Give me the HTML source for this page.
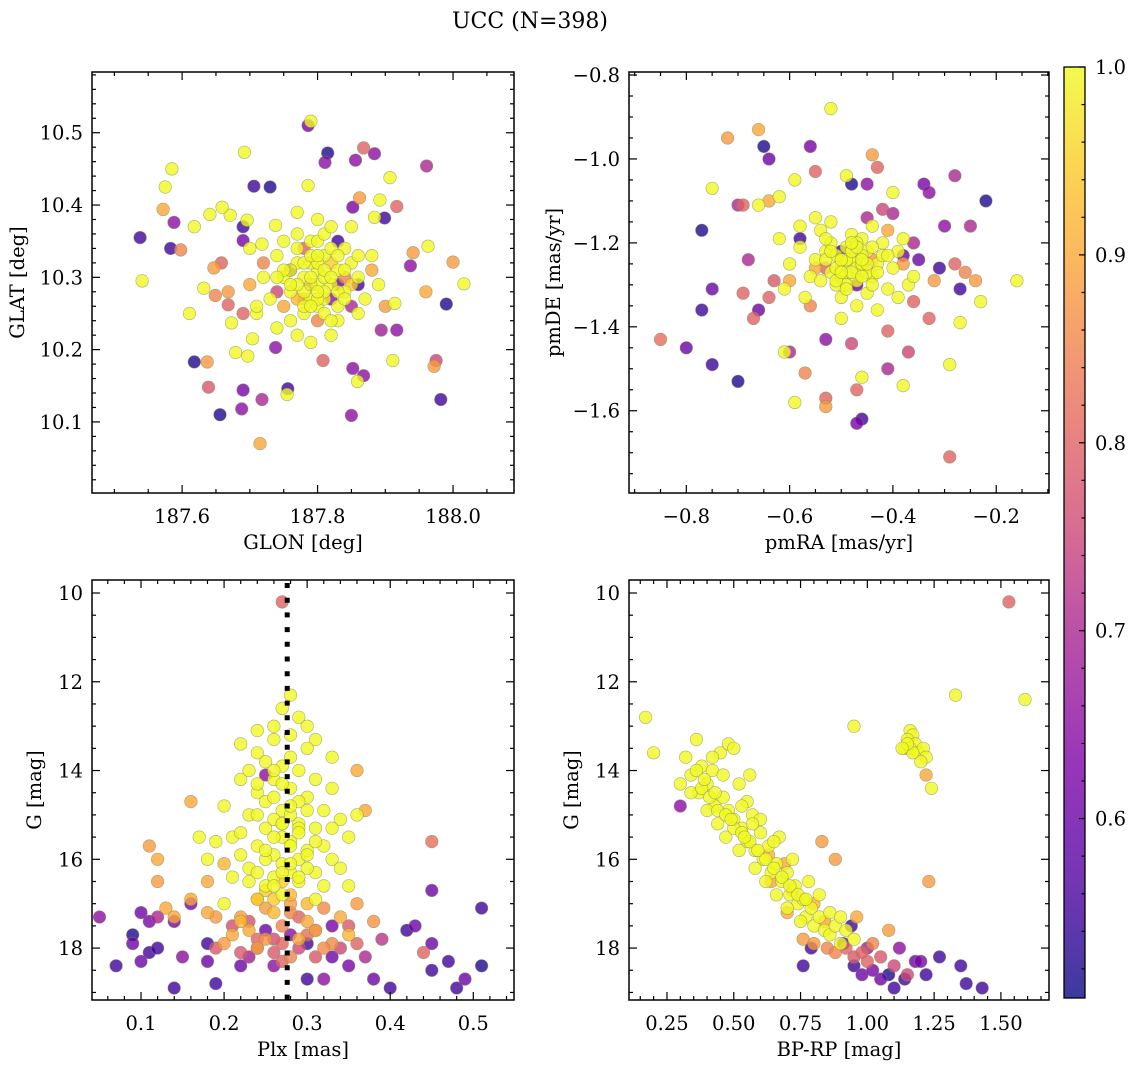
<!DOCTYPE html>
<html><head><meta charset="utf-8">
<style>
html,body{margin:0;padding:0;background:#fff;}
svg{display:block;font-family:"DejaVu Serif","Liberation Serif",serif;}
</style></head>
<body>
<svg id="fig" width="1136" height="1067" viewBox="0 0 1136 1067" xmlns="http://www.w3.org/2000/svg">
<text x="530" y="28" font-size="22" text-anchor="middle">UCC (N=398)</text>
<defs>
<linearGradient id="cbgrad" x1="0" y1="1" x2="0" y2="0"></linearGradient>
</defs>
</svg>
<script>
// ---- data arrays (panel 1: GLON / GLAT) ----
const p1_glon=[187.538,187.541,187.575,187.585,187.572,187.588,187.583,187.598,187.611,187.618,187.637,187.639,187.656,187.69,187.688,187.718,187.715,187.756,187.755,187.692,187.706,187.73,187.786,187.79,187.786,187.815,187.811,187.868,187.884,187.856,187.852,187.862,187.907,187.892,187.884,187.899,187.917,187.961,187.963,187.941,187.937,188.0,188.016,187.96,187.99,187.914,187.917,187.911,187.894,187.975,187.972,187.982,187.85,187.852,187.868,187.859,187.808,187.738,187.679,187.697,187.704,187.658,187.647,187.649,187.632,187.668,187.668,187.673,187.71,187.69,187.69,187.696,187.671,187.659,187.641,187.618,187.738,187.718,
187.78,187.80,187.82,187.79,187.81,187.77,187.76,187.83,187.84,187.80,187.78,187.75,187.74,187.82,187.79,187.77,187.85,187.86,187.81,187.83,187.76,187.73,187.72,187.80,187.79,187.81,187.84,187.75,187.87,187.86,187.77,187.82,187.79,187.74,187.88,187.71,187.70,187.89,187.80,187.77,187.85,187.83,187.78,187.81,187.80,
187.76,187.79,187.82,187.74,187.84,187.78,187.86,187.72,187.88,187.80,187.85,187.75,187.83,187.70,187.77,187.82,187.90,187.69,
187.79,187.81,187.83,187.78,187.80,187.82,187.77,187.84,187.79,187.81,187.76,187.83,187.80,187.78,187.82,187.85,187.75,187.79,187.81,187.77,187.83,187.80,187.86,187.74,187.78,187.82,187.80,187.76,187.84,187.79];
const p1_glat=[10.355,10.295,10.425,10.45,10.394,10.376,10.34,10.338,10.25,10.183,10.183,10.148,10.11,10.144,10.118,10.131,10.07,10.146,10.138,10.473,10.426,10.425,10.427,10.516,10.51,10.472,10.459,10.479,10.471,10.462,10.397,10.41,10.438,10.407,10.383,10.382,10.398,10.454,10.343,10.334,10.316,10.321,10.291,10.28,10.263,10.264,10.227,10.185,10.227,10.185,10.177,10.131,10.109,10.174,10.164,10.156,10.185,10.203,10.196,10.191,10.215,10.32,10.313,10.275,10.285,10.262,10.28,10.237,10.25,10.37,10.351,10.379,10.386,10.397,10.387,10.37,10.372,10.346,
10.30,10.31,10.29,10.27,10.33,10.32,10.28,10.31,10.28,10.26,10.25,10.30,10.33,10.34,10.35,10.36,10.32,10.30,10.27,10.26,10.24,10.27,10.30,10.29,10.32,10.30,10.34,10.35,10.27,10.25,10.22,10.22,10.21,10.23,10.33,10.26,10.34,10.29,10.38,10.39,10.37,10.24,10.28,10.28,10.32,
10.31,10.29,10.27,10.28,10.30,10.34,10.29,10.32,10.31,10.24,10.26,10.26,10.35,10.29,10.27,10.32,10.26,10.25,
10.29,10.31,10.28,10.32,10.27,10.30,10.29,10.31,10.33,10.25,10.31,10.33,10.35,10.26,10.24,10.29,10.31,10.30,10.36,10.34,10.29,10.28,10.33,10.30,10.27,10.37,10.33,10.29,10.27,10.26];
const p1_prob=[0.55,1,1,1,0.9,0.65,0.55,0.85,1,0.52,0.88,0.78,0.52,0.62,0.65,0.7,0.9,0.55,1,1,0.55,0.52,1,1,0.62,0.52,0.65,0.8,0.65,0.65,0.62,0.88,1,1,1,0.55,0.8,0.7,1,0.88,0.65,0.88,1,0.9,0.52,1,0.65,1,0.68,0.75,0.88,0.55,0.65,0.65,0.65,1,0.8,0.65,1,1,1,0.8,0.88,0.85,1,0.8,0.88,1,1,0.55,0.62,1,1,1,1,1,1,1,
1,1,1,1,1,1,1,1,1,1,1,1,1,1,1,1,1,1,1,1,1,1,1,1,1,1,1,1,1,1,1,1,1,1,1,1,1,1,1,1,1,1,1,1,1,
0.55,0.6,0.65,0.75,0.85,0.8,0.55,0.85,0.9,0.85,0.7,0.9,0.55,0.9,0.92,0.95,0.88,0.8,
1,1,1,1,1,1,1,1,1,1,1,1,1,1,1,0.95,1,1,1,1,0.6,1,1,1,0.9,1,1,1,1,1];
// ---- panel 2: pmRA / pmDE ----
const p2_pmra=[-0.52,-0.72,-0.66,-0.65,-0.64,-0.56,-0.49,-0.55,-0.48,-0.43,-0.44,-0.45,-0.40,-0.34,-0.33,-0.28,-0.22,-0.25,-0.30,-0.75,-0.70,-0.69,-0.66,-0.64,-0.62,-0.59,-0.77,-0.68,-0.69,-0.75,-0.75,-0.70,-0.80,-0.85,-0.77,-0.66,-0.67,-0.64,-0.63,-0.61,-0.60,-0.59,-0.57,-0.53,-0.53,-0.53,-0.48,-0.46,-0.47,-0.47,-0.46,-0.41,-0.41,-0.38,-0.37,-0.29,-0.29,-0.27,-0.33,-0.28,-0.26,-0.24,-0.23,-0.16,-0.27,-0.31,-0.32,-0.35,-0.36,-0.38,-0.37,-0.39,-0.36,-0.38,-0.40,-0.42,
-0.50,-0.48,-0.46,-0.52,-0.49,-0.45,-0.47,-0.53,-0.51,-0.44,-0.55,-0.43,-0.48,-0.50,-0.46,-0.56,-0.42,-0.58,-0.40,-0.54,-0.47,-0.52,-0.44,-0.60,-0.41,-0.49,-0.45,-0.57,-0.39,-0.62,-0.50,-0.43,-0.55,-0.58,-0.61,-0.36,-0.48,-0.52,-0.46,
-0.50,-0.47,-0.53,-0.44,-0.58,-0.41,-0.56,-0.45,-0.60,-0.38,
-0.49,-0.47,-0.51,-0.45,-0.48,-0.50,-0.46,-0.53,-0.44,-0.49,-0.51,-0.47,-0.54,-0.42,-0.48,-0.50,-0.45,-0.52,-0.46,-0.49,-0.43,-0.55,-0.47,-0.51,-0.48,-0.44,-0.53,-0.46,-0.50,-0.41];
const p2_pmde=[-0.88,-0.95,-0.93,-0.97,-1.0,-0.97,-1.04,-1.03,-1.06,-1.02,-0.99,-1.06,-1.08,-1.06,-1.08,-1.04,-1.10,-1.16,-1.16,-1.07,-1.11,-1.11,-1.11,-1.10,-1.09,-1.05,-1.17,-1.24,-1.32,-1.31,-1.49,-1.53,-1.45,-1.43,-1.36,-1.36,-1.38,-1.33,-1.29,-1.46,-1.46,-1.58,-1.51,-1.59,-1.57,-1.43,-1.44,-1.52,-1.55,-1.63,-1.62,-1.50,-1.41,-1.54,-1.46,-1.49,-1.71,-1.39,-1.38,-1.25,-1.27,-1.29,-1.34,-1.29,-1.31,-1.26,-1.29,-1.24,-1.20,-1.23,-1.30,-1.33,-1.34,-1.19,-1.13,-1.12,
-1.25,-1.23,-1.26,-1.27,-1.21,-1.22,-1.29,-1.22,-1.30,-1.28,-1.24,-1.25,-1.18,-1.33,-1.19,-1.28,-1.20,-1.21,-1.26,-1.17,-1.35,-1.15,-1.16,-1.25,-1.31,-1.27,-1.32,-1.33,-1.22,-1.19,-1.38,-1.36,-1.14,-1.16,-1.31,-1.28,-1.24,-1.20,-1.23,
-1.22,-1.30,-1.26,-1.24,-1.19,-1.17,-1.35,-1.14,-1.29,-1.25,
-1.24,-1.26,-1.23,-1.27,-1.22,-1.28,-1.25,-1.24,-1.21,-1.30,-1.26,-1.20,-1.29,-1.23,-1.27,-1.24,-1.25,-1.22,-1.28,-1.31,-1.27,-1.26,-1.21,-1.29,-1.20,-1.30,-1.19,-1.24,-1.27,-1.23];
const p2_prob=[1,0.88,0.9,0.52,0.6,0.62,1,0.8,0.52,0.8,0.88,0.65,1,0.62,0.65,0.7,0.52,0.7,0.65,1,0.7,0.8,1,0.9,1,1,0.52,0.7,0.8,0.6,0.55,0.52,0.6,0.82,0.55,0.6,0.8,0.8,0.78,1,0.7,1,0.85,0.88,0.8,0.65,0.75,1,0.8,0.62,0.55,0.7,0.8,1,0.75,1,0.8,1,0.8,0.8,0.85,0.88,1,1,0.55,0.55,0.88,0.6,0.7,0.6,1,1,0.8,1,0.7,0.75,
1,1,1,1,1,1,1,1,1,1,1,1,1,1,1,1,1,1,1,1,1,1,1,1,1,1,1,1,1,1,1,1,1,1,1,1,1,1,1,
0.55,0.6,0.8,0.88,0.55,0.9,0.85,0.7,0.9,0.88,
1,1,1,1,1,1,1,1,1,1,1,1,1,1,1,1,1,1,1,1,1,0.9,1,1,1,1,1,1,1,1];
// ---- panel 3: Plx / G ----
const p3_plx=[0.27,0.28,0.27,0.29,0.30,0.26,0.31,0.22,0.33,0.24,0.36,0.37,0.45,0.45,0.45,0.44,0.45,0.47,0.48,0.49,0.51,0.51,0.42,0.43,0.40,0.38,0.05,0.07,0.09,0.09,0.10,0.10,0.11,0.11,0.12,0.12,0.14,0.14,0.15,0.16,0.18,0.18,0.19,0.22,0.24,0.26,0.30,0.32,0.33,0.35,0.35,0.37,0.39,0.11,0.12,0.12,0.13,0.14,0.16,0.16,0.17,0.18,0.20,
0.20,0.22,0.23,0.24,0.25,0.26,0.27,0.28,0.29,0.30,0.31,0.32,0.33,0.34,0.35,0.21,0.22,0.23,0.24,0.25,0.26,0.27,0.28,0.29,0.30,0.31,0.32,0.33,0.34,0.25,0.27,0.29,0.31,0.23,0.27,0.29,0.24,0.26,0.30,0.28,0.22,0.19,0.18,0.35,0.36,0.21,0.26,0.28,0.30,0.25,0.27,0.31,0.33,0.24,0.26,0.28,0.30,0.32,
0.20,0.22,0.24,0.26,0.28,0.30,0.32,0.34,0.36,0.23,0.25,0.27,0.29,0.31,0.33,0.21,0.19,0.18,0.35,0.38,0.24,0.28,0.32,
0.20,0.22,0.26,0.29,0.31,0.34,0.27,0.23,0.36,0.19,
0.21,0.25,0.30,0.33,0.28,0.23,
0.25,0.26,0.27,0.28,0.29,0.24,0.26,0.27,0.28,0.25,0.27,0.29,0.26,0.28,0.30,0.24,0.26,0.28,0.25,0.27,0.29,0.31,0.23,0.25,0.27,0.29,0.26,0.28,0.24,0.30,
0.22,0.25,0.28,0.31,0.24,0.27,0.30,0.26,0.29];
const p3_g=[10.2,12.3,12.6,12.8,13.0,13.3,13.3,13.4,13.7,13.1,14.0,14.9,15.6,16.7,17.9,18.1,18.5,18.3,18.9,18.7,18.4,17.1,17.6,17.5,18.9,18.7,17.3,18.4,17.7,17.9,17.2,18.3,17.4,18.1,17.3,18.0,17.4,18.9,18.2,17.0,17.9,18.3,18.8,18.4,18.0,18.4,18.7,18.7,18.2,18.4,17.5,18.2,17.8,15.7,16.0,16.5,17.1,17.3,16.9,14.7,15.5,16.5,16.1,
14.8,14.2,15.0,14.5,13.8,14.2,13.9,14.4,14.0,14.6,14.2,14.9,14.4,15.1,15.5,15.5,15.9,16.2,15.7,15.3,15.9,16.1,15.6,15.2,15.8,16.3,15.7,16.0,16.2,16.6,16.8,16.5,16.9,14.0,14.9,14.7,13.6,13.0,13.5,13.2,15.4,15.6,16.0,16.6,15.0,16.4,15.1,15.0,14.9,14.7,15.5,15.3,15.3,16.3,16.4,16.3,16.2,16.6,
17.0,17.3,16.9,17.2,17.0,17.4,17.1,17.3,17.0,17.6,17.8,17.5,17.8,17.6,17.9,17.7,17.3,17.2,17.7,17.4,18.0,18.2,18.0,
17.9,18.1,17.8,17.3,18.2,18.0,18.3,17.4,17.9,18.0,
17.5,17.6,17.9,17.5,17.7,18.2,
14.1,14.6,14.3,14.8,15.3,15.0,15.5,15.2,15.7,16.0,16.3,16.0,16.6,16.1,15.9,14.3,14.0,13.7,15.8,15.2,15.4,15.6,16.5,16.7,16.5,16.4,16.9,16.8,16.9,17.0,
17.4,17.1,17.2,17.6,17.8,17.9,17.7,18.1,18.0];
const p3_prob=[0.8,1,1,1,1,1,1,1,1,1,0.9,0.9,0.82,0.6,0.6,0.8,0.55,0.55,0.55,0.6,0.52,0.55,0.55,0.6,0.55,0.6,0.65,0.55,0.52,0.6,0.6,0.6,0.62,0.55,0.7,0.55,0.62,0.55,0.65,0.62,0.55,0.6,0.55,0.6,0.7,0.65,0.55,0.65,0.6,0.62,0.78,0.7,0.72,0.88,0.9,0.88,0.9,0.9,0.9,0.9,1,0.9,0.92,
1,1,1,1,1,1,1,1,1,1,1,1,1,1,1,1,1,1,1,1,1,1,1,1,1,1,1,1,1,1,1,1,1,1,1,1,1,1,1,1,1,1,1,1,1,1,1,1,1,1,1,1,1,1,1,1,1,1,1,
0.88,0.9,0.92,0.88,0.9,0.86,0.9,0.88,0.9,0.87,0.85,0.9,0.88,0.86,0.9,0.88,0.9,0.92,0.87,0.9,0.85,0.86,0.88,
0.78,0.76,0.8,0.78,0.75,0.8,0.77,0.8,0.78,0.76,
0.6,0.55,0.62,0.65,0.68,0.65,
1,1,1,1,1,1,1,1,1,1,1,1,1,1,1,1,1,1,1,1,1,1,0.95,0.95,1,0.95,0.92,0.95,0.92,0.92,
0.88,0.85,0.86,0.8,0.8,0.82,0.78,0.75,0.8];
// ---- panel 4: BP-RP / G ----
const p4_bprp=[0.17,0.20,0.95,1.33,1.59,1.53,1.22,1.24,1.23,
1.16,1.17,1.15,1.18,1.14,1.16,1.19,1.21,1.22,1.20,1.17,1.15,1.13,
0.30,0.32,0.34,0.36,0.37,0.38,0.40,0.42,0.43,0.45,0.46,0.48,0.48,0.50,0.50,0.52,0.53,0.55,0.55,0.57,0.58,0.60,0.61,0.63,0.64,0.66,0.67,0.68,0.70,0.71,0.73,0.74,0.76,0.77,0.79,0.80,0.82,0.84,0.86,0.88,0.90,0.92,0.95,0.34,0.40,0.44,0.47,0.52,0.58,0.62,0.66,0.70,0.75,0.46,0.53,0.60,0.65,0.72,0.78,0.82,0.86,0.90,0.42,0.56,
0.70,0.76,0.80,0.85,0.88,0.92,0.95,0.98,1.00,1.05,1.10,0.96,1.02,1.08,0.88,0.83,0.64,1.15,
0.30,0.79,0.76,0.91,0.95,0.98,1.02,1.05,1.08,1.10,1.14,1.18,1.20,1.27,1.35,1.37,1.43,1.00,1.12,1.22,0.94,
0.38,0.41,0.44,0.47,0.50,0.53,0.56,0.59,0.62,0.65,0.68,0.71,0.74,0.77,0.36,0.39,0.43,0.49,0.54,0.57,0.63,0.69,0.72,0.80,0.84];
const p4_g=[12.8,13.6,13.0,12.3,12.4,10.2,14.1,14.4,16.5,
13.1,13.2,13.3,13.4,13.5,13.5,13.6,13.5,13.7,13.8,13.6,13.4,13.5,
14.3,13.7,14.1,13.3,14.5,13.9,14.3,14.0,14.8,13.6,14.6,13.4,14.9,13.5,15.1,14.3,15.3,14.7,15.6,15.0,15.8,15.4,16.0,15.7,16.3,16.1,15.5,16.5,16.3,16.8,16.6,17.0,16.9,17.3,17.1,17.5,17.3,17.6,17.7,17.5,17.9,17.6,17.8,14.5,14.9,15.2,15.5,15.8,16.2,16.5,16.8,17.1,17.4,14.1,14.8,15.1,15.6,16.0,16.5,16.8,17.2,17.3,13.7,14.1,
17.2,17.8,17.9,18.0,18.1,18.0,18.2,18.1,18.3,18.2,18.4,17.3,17.9,17.6,16.0,15.6,16.5,18.6,
14.8,18.0,18.4,17.9,18.4,18.6,18.5,18.7,18.6,18.9,18.7,18.3,18.3,18.2,18.4,18.8,18.9,18.0,18.0,18.6,17.5,
14.4,14.6,14.9,15.0,15.3,15.4,15.6,15.8,16.0,16.2,16.4,16.6,16.8,16.9,14.0,14.2,14.5,15.1,15.5,15.2,15.9,16.1,16.7,17.0,17.4];
const p4_prob=[1,1,1,1,1,0.8,0.9,1,0.88,
1,1,1,1,1,1,1,1,1,1,1,1,1,
1,1,1,1,1,1,1,1,1,1,1,1,1,1,1,1,1,1,1,1,1,1,1,1,1,1,1,1,1,1,1,1,1,1,1,1,1,1,1,1,1,1,1,1,1,1,1,1,1,1,1,1,1,1,1,1,1,1,1,1,1,1,1,1,
0.9,0.88,0.88,0.85,0.85,0.8,0.78,0.8,0.8,0.78,0.75,0.9,0.85,0.88,0.88,0.88,0.9,0.75,
0.65,0.55,0.55,0.55,0.55,0.6,0.62,0.6,0.52,0.55,0.55,0.6,0.62,0.55,0.55,0.55,0.55,0.68,0.65,0.55,0.55,
1,1,1,1,1,1,1,1,1,1,1,1,1,1,1,1,1,1,1,1,0.92,0.9,0.95,0.92,0.9];
const plxLine=0.276;
const cbTicks=[0.6,0.7,0.8,0.9,1.0];

const NS="http://www.w3.org/2000/svg";
const svg=document.getElementById('fig');
function mk(tag,attrs,parent){const e=document.createElementNS(NS,tag);for(const k in attrs)e.setAttribute(k,attrs[k]);(parent||svg).appendChild(e);return e;}

const stops=[[0,[13,8,135]],[0.13,[84,2,163]],[0.25,[126,3,168]],[0.38,[165,33,149]],[0.5,[204,71,120]],[0.63,[229,107,93]],[0.75,[248,149,64]],[0.88,[253,196,39]],[1,[240,249,33]]];
const VMIN=0.5045,VMAX=1.0,ALPHA=0.8;
function cmapT(t){t=Math.max(0,Math.min(1,t));
 for(let i=1;i<stops.length;i++){if(t<=stops[i][0]){const a=stops[i-1],b=stops[i];const f=(t-a[0])/(b[0]-a[0]);
 return a[1].map((c,j)=>c+(b[1][j]-c)*f);}}
 return [240,249,33];}
function blend(c){return 'rgb('+c.map(v=>Math.round(v*ALPHA+255*(1-ALPHA))).join(',')+')';}
function rawColor(v){return 'rgb('+cmapT((v-VMIN)/(VMAX-VMIN)).map(Math.round).join(',')+')';}
const grad=document.getElementById('cbgrad');
for(let k=0;k<=20;k++){mk('stop',{offset:k/20,'stop-color':blend(cmapT(k/20))},grad);}

function fmt(v,d){const s=Math.abs(v).toFixed(d);return (v<0?'\u2212':'')+s;}
const FS=19.5;

function panel(o){
 const g=mk('g',{});
 
 
 const sx=v=>o.x0+(v-o.xmin)/(o.xmax-o.xmin)*(o.x1-o.x0);
 const sy=o.invert? (v=>o.y0+(v-o.ymin)/(o.ymax-o.ymin)*(o.y1-o.y0)) : (v=>o.y1-(v-o.ymin)/(o.ymax-o.ymin)*(o.y1-o.y0));
 const idx=o.xs.map((_,i)=>i).sort((a,b)=>o.ps[a]-o.ps[b]);
 const pg=mk('g',{},g);
 
 
 for(const i of idx){const c=mk('circle',{cx:sx(o.xs[i]).toFixed(1),cy:sy(o.ys[i]).toFixed(1),r:6.3,fill:rawColor(o.ps[i]),'fill-opacity':ALPHA,stroke:'#8a8a60','stroke-opacity':0.7,'stroke-width':0.6},pg);
  
  }
 if(o.extra)o.extra(g,sx,sy);
 const fr=mk('rect',{x:o.x0,y:o.y0,width:o.x1-o.x0,height:o.y1-o.y0,fill:'none',stroke:'#000','stroke-width':1.5},g);
 
 
 const tk=mk('g',{stroke:'#000','stroke-width':1.2},g);
 const eps=1e-9;
 for(let v=Math.ceil((o.xmin)/o.xminor-eps)*o.xminor; v<=o.xmax+eps; v+=o.xminor){
  const major=Math.abs(v/o.xmajor-Math.round(v/o.xmajor))<1e-6; const L=major?8:4; const x=sx(v);
  mk('line',{x1:x,x2:x,y1:o.y1,y2:o.y1-L},tk); mk('line',{x1:x,x2:x,y1:o.y0,y2:o.y0+L},tk);
  if(major){const t=mk('text',{x:x,y:o.y1+30,'font-size':FS,'text-anchor':'middle',stroke:'none'},g);t.textContent=fmt(v,o.xdec);
   
   }
 }
 const ylo=Math.min(o.ymin,o.ymax), yhi=Math.max(o.ymin,o.ymax);
 for(let v=Math.ceil(ylo/o.yminor-eps)*o.yminor; v<=yhi+eps; v+=o.yminor){
  const major=Math.abs(v/o.ymajor-Math.round(v/o.ymajor))<1e-6; const L=major?8:4; const y=sy(v);
  mk('line',{x1:o.x0,x2:o.x0+L,y1:y,y2:y},tk); mk('line',{x1:o.x1,x2:o.x1-L,y1:y,y2:y},tk);
  if(major){const t=mk('text',{x:o.x0-9,y:y+7,'font-size':FS,'text-anchor':'end',stroke:'none'},g);t.textContent=fmt(v,o.ydec);
   
   }
 }
 const xl=mk('text',{x:(o.x0+o.x1)/2,y:o.y1+56,'font-size':FS,'text-anchor':'middle'},g);xl.textContent=o.xlabel;
 
 
 const yx=o.ylx, yy=(o.y0+o.y1)/2;
 const yl=mk('text',{x:yx,y:yy,'font-size':FS,'text-anchor':'middle',transform:`rotate(-90 ${yx} ${yy})`},g);yl.textContent=o.ylabel;
 
 
}

panel({name:'glon-glat-panel',x0:92,x1:514,y0:72,y1:493,xmin:187.467,xmax:188.090,ymin:10.0017,ymax:10.584,xmajor:0.2,xminor:0.05,ymajor:0.1,yminor:0.02,xdec:1,ydec:1,xs:p1_glon,ys:p1_glat,ps:p1_prob,xlabel:'GLON [deg]',ylabel:'GLAT [deg]',ylx:24});
panel({name:'pmra-pmde-panel',x0:629,x1:1049,y0:72,y1:493,xmin:-0.911,xmax:-0.0978,ymin:-1.796,ymax:-0.7928,xmajor:0.2,xminor:0.05,ymajor:0.2,yminor:0.05,xdec:1,ydec:1,xs:p2_pmra,ys:p2_pmde,ps:p2_prob,xlabel:'pmRA [mas/yr]',ylabel:'pmDE [mas/yr]',ylx:560});
panel({name:'plx-g-panel',x0:92,x1:514,y0:580,y1:1000,xmin:0.041,xmax:0.549,ymin:9.707,ymax:19.17,invert:true,xmajor:0.1,xminor:0.02,ymajor:2,yminor:0.5,xdec:1,ydec:0,xs:p3_plx,ys:p3_g,ps:p3_prob,xlabel:'Plx [mas]',ylabel:'G [mag]',ylx:41,
 extra:(g,sx,sy)=>{const l=mk('line',{x1:sx(plxLine),x2:sx(plxLine),y1:580,y2:1000,stroke:'#000','stroke-width':5,'stroke-dasharray':'5,9.7','stroke-dashoffset':-3},g);
  
  }});
panel({name:'cmd-panel',x0:629,x1:1049,y0:580,y1:1000,xmin:0.1078,xmax:1.68,ymin:9.707,ymax:19.17,invert:true,xmajor:0.25,xminor:0.05,ymajor:2,yminor:0.5,xdec:2,ydec:0,xs:p4_bprp,ys:p4_g,ps:p4_prob,xlabel:'BP-RP [mag]',ylabel:'G [mag]',ylx:578});

const cb=mk('g',{});


const cbx0=1064,cbx1=1085,cby0=67,cby1=998;
mk('rect',{x:cbx0,y:cby0,width:cbx1-cbx0,height:cby1-cby0,fill:'url(#cbgrad)',stroke:'#000','stroke-width':1.3},cb);
const cy=v=>cby1-(v-VMIN)/(VMAX-VMIN)*(cby1-cby0);
for(let v=0.52;v<=1.0001;v+=0.02){const major=Math.abs(v*10-Math.round(v*10))<1e-6;const y=cy(v);
 mk('line',{x1:cbx1,x2:cbx1-(major?6:3.5),y1:y,y2:y,stroke:'#000','stroke-width':1.2},cb);}
for(const v of cbTicks){const t=mk('text',{x:1095,y:cy(v)+7,'font-size':FS},cb);t.textContent=v.toFixed(1);
 
 }
</script>
</body></html>
